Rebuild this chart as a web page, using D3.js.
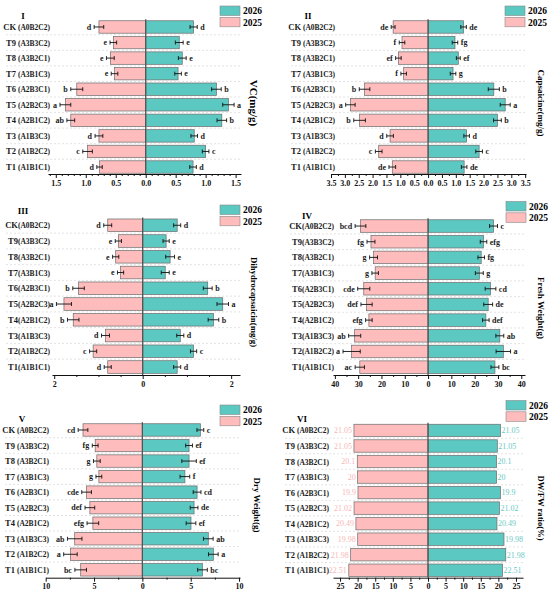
<!DOCTYPE html>
<html><head><meta charset="utf-8">
<script src="https://cdn.jsdelivr.net/npm/d3@7"></script>
<style>
body{margin:0;background:#fff;}
svg{display:block;font-family:"Liberation Serif","Times New Roman",serif;}
</style></head>
<body>
<svg id="chart" width="550" height="595"></svg>
<script>
// ---------- DATA ----------
const categories = ["CK","T9","T8","T7","T6","T5","T4","T3","T2","T1"];
const codes = ["A0B2C2","A3B3C2","A3B2C1","A3B1C3","A2B3C1","A2B2C3","A2B1C2","A1B3C3","A1B2C2","A1B1C1"];
const years = ["2026","2025"];

// Panel I  VC (mg/g)
const vc2026 = [0.80,0.56,0.61,0.54,1.18,1.38,1.27,0.81,1.00,0.79];
const vc2025 = [0.78,0.54,0.59,0.52,1.15,1.34,1.25,0.78,0.97,0.77];
const vcErr2026 = [0.06,0.065,0.065,0.055,0.08,0.095,0.08,0.055,0.055,0.055];
const vcErr2025 = [0.08,0.055,0.065,0.055,0.10,0.09,0.065,0.065,0.08,0.045];
const vcSig2026 = ["d","e","e","e","b","a","b","d","c","d"];
const vcSig2025 = ["d","e","e","e","b","a","ab","d","c","d"];

// Panel II Capsaicine (mg/g)
const cap2026 = [1.28,0.97,1.09,0.90,2.37,2.78,2.50,1.39,1.84,1.30];
const cap2025 = [1.26,0.94,1.07,0.88,2.29,2.80,2.47,1.37,1.78,1.29];
const capErr2026 = [0.10,0.10,0.07,0.10,0.20,0.18,0.14,0.10,0.12,0.10];
const capErr2025 = [0.07,0.10,0.10,0.10,0.19,0.17,0.21,0.12,0.12,0.12];
const capSig2026 = ["de","fg","ef","g","b","a","b","d","c","de"];
const capSig2025 = ["de","f","ef","f","b","a","b","d","c","de"];

// Panel III Dihydrocapsaicin (mg/g)
const dhc2026 = [0.78,0.53,0.62,0.51,1.47,1.81,1.60,0.85,1.15,0.78];
const dhc2025 = [0.79,0.55,0.61,0.50,1.45,1.78,1.57,0.84,1.12,0.79];
const dhcErr2026 = [0.08,0.07,0.10,0.09,0.10,0.13,0.12,0.08,0.07,0.08];
const dhcErr2025 = [0.09,0.07,0.07,0.07,0.13,0.17,0.13,0.09,0.08,0.08];
const dhcSig2026 = ["d","e","e","e","b","a","b","d","c","d"];
const dhcSig2025 = ["d","e","e","e","b","a","b","d","c","d"];

// Panel IV Fresh Weight (g)
const fw2026 = [28.1,23.8,22.8,22.0,26.8,25.8,24.8,30.8,32.3,28.7];
const fw2025 = [29.0,24.5,23.4,22.7,27.6,26.4,25.4,31.5,32.8,29.3];
const fwErr2026 = [1.7,1.4,1.4,1.7,2.3,1.9,1.4,1.7,3.1,1.7];
const fwErr2025 = [2.3,1.7,1.7,1.4,2.6,2.4,1.4,2.6,3.7,2.0];
const fwSig2026 = ["c","efg","fg","g","cd","de","def","ab","a","bc"];
const fwSig2025 = ["bcd","fg","g","g","cde","def","efg","ab","a","ac"];

// Panel V Dry Weight (g)
const dw2026 = [6.00,4.83,4.83,4.40,5.66,5.35,5.03,6.82,7.34,6.22];
const dw2025 = [6.14,4.88,4.71,4.50,5.77,5.43,5.12,7.00,7.44,6.38];
const dwErr2026 = [0.35,0.35,0.75,0.5,0.4,0.4,0.5,0.5,0.5,0.5];
const dwErr2025 = [0.5,0.3,0.35,0.3,0.5,0.5,0.6,0.75,0.7,0.6];
const dwSig2026 = ["c","ef","ef","f","cd","de","ef","ab","a","bc"];
const dwSig2025 = ["cd","fg","g","g","cde","def","efg","ab","a","bc"];

// Panel VI DW/FW ratio (%)
const ratio2026 = [20.6,19.7,19.5,19.5,20.6,20.3,19.6,21.6,22.1,21.2];
const ratio2025 = [21.05,21.05,20.1,20.0,19.9,21.02,20.49,19.98,21.98,22.51];
const ratioLabels = ["21.05","21.05","20.1","20","19.9","21.02","20.49","19.98","21.98","22.51"];

// tick values
const ticksI = [-1.5,-1.0,-0.5,0,0.5,1.0,1.5];
const ticksII = [-3.5,-3.0,-2.5,-2.0,-1.5,-1.0,-0.5,0,0.5,1.0,1.5,2.0,2.5,3.0,3.5];
const ticksIII = [-2,0,2];
const ticksIV = [-40,-30,-20,-10,0,10,20,30,40];
const ticksV = [-10,-5,0,5,10];
const ticksVI = [-25,-20,-15,-10,-5,0,5,10,15,20,25];

// ---------- STYLE / LAYOUT ----------
const teal = "#5cc8c2", pink = "#ffbcbc";
const svg = d3.select("#chart");
svg.append("rect").attr("width",550).attr("height",595).attr("fill","#fff");

const panels = [
 {roman:"I", yTitle:"VC(mg/g)", r:vc2026, l:vc2025, er:vcErr2026, el:vcErr2025, sr:vcSig2026, sl:vcSig2025,
  ticks:ticksI, minor:0.1, fmt:d3.format(".1f"), sep:" ",
  x0:48, x1:241, dom:[-1.63,1.59], top:19.2, bot:174.8, axisY:174, labelX:50, titleX:23, titleY:19,
  legX:220, legY:6, yTX:253, yTY:103, yTS:11},
 {roman:"II", yTitle:"Capsaicine(mg/g)", r:cap2026, l:cap2025, er:capErr2026, el:capErr2025, sr:capSig2026, sl:capSig2025,
  ticks:ticksII, minor:0.25, fmt:d3.format(".1f"), sep:" ",
  x0:331, x1:526, dom:[-3.5,3.53], top:19.2, bot:174.8, axisY:174, labelX:335, titleX:308, titleY:19,
  legX:505, legY:6, yTX:540, yTY:103, yTS:9},
 {roman:"III", yTitle:"Dihydrocapsaicin(mg/g)", r:dhc2026, l:dhc2025, er:dhcErr2026, el:dhcErr2025, sr:dhcSig2026, sl:dhcSig2025,
  ticks:ticksIII, minor:0.5, fmt:d3.format("d"), sep:"",
  x0:52, x1:240, dom:[-2.05,2.2], top:217.4, bot:374.9, axisY:375, labelX:50, titleX:23, titleY:214,
  legX:220, legY:205, yTX:253, yTY:302, yTS:8.8},
 {roman:"IV", yTitle:"Fresh Weight(g)", r:fw2026, l:fw2025, er:fwErr2026, el:fwErr2025, sr:fwSig2026, sl:fwSig2025,
  ticks:ticksIV, minor:5, fmt:d3.format("d"), sep:"",
  x0:333, x1:525, dom:[-40.8,41.6], top:218.2, bot:375, axisY:375, labelX:334, titleX:307, titleY:219,
  legX:506, legY:201.5, yTX:540, yTY:308, yTS:9},
 {roman:"V", yTitle:"Dry Weight(g)", r:dw2026, l:dw2025, er:dwErr2026, el:dwErr2025, sr:dwSig2026, sl:dwSig2025,
  ticks:ticksV, minor:2.5, fmt:d3.format("d"), sep:" ",
  x0:45.7, x1:240, dom:[-10,10.1], top:422.2, bot:577.6, axisY:577.7, labelX:49, titleX:22, titleY:422,
  legX:220, legY:405, yTX:256, yTY:505, yTS:9},
 {roman:"VI", yTitle:"DW/FW ratio(%)", r:ratio2026, l:ratio2025, er:null, el:null, sr:null, sl:null, vals:ratioLabels,
  ticks:ticksVI, minor:2.5, fmt:d3.format("d"), sep:" ",
  x0:333, x1:523, dom:[-27,27], top:422.7, bot:578, axisY:577.7, labelX:329, titleX:302, titleY:422,
  legX:506, legY:400.5, yTX:540, yTY:508, yTS:8.6}
];

panels.forEach(drawPanel);

function drawPanel(p){
  const g = svg.append("g");
  const x = d3.scaleLinear().domain(p.dom).range([p.x0,p.x1]);
  const y = d3.scaleBand().domain(categories).range([p.top,p.bot]).paddingInner(0.2).paddingOuter(0.1);
  const step = y.step();

  // dashed separators
  categories.slice(1).forEach(c=>{
    const yy = y(c) - step*0.1;
    g.append("line").attr("x1",p.labelX-44).attr("x2",p.x1).attr("y1",yy).attr("y2",yy)
      .attr("stroke","#d0d0d0").attr("stroke-width",0.6).attr("stroke-dasharray","2,2");
  });

  // category labels
  categories.forEach((c,i)=>{
    const t = g.append("text").attr("x",p.labelX).attr("y",y(c)+y.bandwidth()/2+3)
      .attr("text-anchor","end").attr("font-weight","bold").attr("fill","#1a1a1a");
    t.append("tspan").attr("font-size",8.5).text(c);
    t.append("tspan").attr("font-size",7.5).text(p.sep+"("+codes[i]+")");
  });

  // bars right (2026)
  g.selectAll(".br").data(categories).enter().append("rect")
    .attr("x",x(0)).attr("y",d=>y(d)).attr("height",y.bandwidth())
    .attr("width",(d,i)=>x(p.r[i])-x(0))
    .attr("fill",teal).attr("stroke","#6b6b6b").attr("stroke-width",0.7);
  // bars left (2025)
  g.selectAll(".bl").data(categories).enter().append("rect")
    .attr("x",(d,i)=>x(-p.l[i])).attr("y",d=>y(d)).attr("height",y.bandwidth())
    .attr("width",(d,i)=>x(0)-x(-p.l[i]))
    .attr("fill",pink).attr("stroke","#6b6b6b").attr("stroke-width",0.7);

  if(p.er){
    categories.forEach((c,i)=>{
      const cy = y(c)+y.bandwidth()/2;
      [[p.r[i],p.er[i],1,p.sr[i]],[-p.l[i],p.el[i],-1,p.sl[i]]].forEach(([v,e,s,sig])=>{
        const a = x(v-e), b = x(v+e);
        g.append("line").attr("x1",a).attr("x2",b).attr("y1",cy).attr("y2",cy).attr("stroke","#111").attr("stroke-width",0.9);
        [a,b].forEach(xx=>g.append("line").attr("x1",xx).attr("x2",xx).attr("y1",cy-2).attr("y2",cy+2).attr("stroke","#111").attr("stroke-width",0.9));
        const endX = s>0 ? b+3 : a-3;
        g.append("text").attr("x",endX).attr("y",cy+2.8).attr("text-anchor",s>0?"start":"end")
          .attr("font-size",8).attr("font-weight","bold").attr("fill","#1a1a1a").text(sig);
      });
    });
  }
  if(p.vals){
    categories.forEach((c,i)=>{
      const cy = y(c)+y.bandwidth()/2+2.8;
      g.append("text").attr("x",x(p.r[i])+1).attr("y",cy).attr("font-size",8).attr("fill","#6cc9c4").text(p.vals[i]);
      g.append("text").attr("x",x(-p.l[i])-2).attr("y",cy).attr("text-anchor","end").attr("font-size",8).attr("fill","#f7b7b7").text(p.vals[i]);
    });
  }

  // zero line
  g.append("line").attr("x1",x(0)).attr("x2",x(0)).attr("y1",p.top).attr("y2",p.axisY)
    .attr("stroke","#555").attr("stroke-width",1.3);

  // minor ticks
  const minorVals = d3.range(Math.ceil(p.dom[0]/p.minor)*p.minor, p.dom[1]+1e-9, p.minor)
      .filter(v=>!p.ticks.some(t=>Math.abs(t-v)<1e-9));
  const ma = g.append("g").attr("transform",`translate(0,${p.axisY})`)
    .call(d3.axisBottom(x).tickValues(minorVals).tickSize(2).tickFormat(""));
  ma.select(".domain").remove();
  ma.selectAll("line").attr("stroke","#111");
  // major axis
  const ax = g.append("g").attr("transform",`translate(0,${p.axisY})`)
    .call(d3.axisBottom(x).tickValues(p.ticks).tickSize(4).tickSizeOuter(0).tickPadding(2).tickFormat(d=>p.fmt(Math.abs(d))));
  ax.select(".domain").attr("stroke","#111").attr("stroke-width",1);
  ax.selectAll("line").attr("stroke","#111");
  ax.selectAll("text").attr("font-family","Liberation Serif, serif").attr("font-weight","bold").attr("font-size",8).attr("fill","#111");

  // roman title
  g.append("text").attr("x",p.titleX).attr("y",p.titleY).attr("text-anchor","middle")
    .attr("font-size",9).attr("font-weight","bold").text(p.roman);

  // y title (rotated)
  g.append("text").attr("transform",`translate(${p.yTX},${p.yTY}) rotate(90)`)
    .attr("text-anchor","middle").attr("dominant-baseline","middle")
    .attr("font-size",p.yTS).attr("font-weight","bold").text(p.yTitle);

  // legend
  years.forEach((yr,i)=>{
    const ly = p.legY + i*11.3;
    g.append("rect").attr("x",p.legX).attr("y",ly).attr("width",20).attr("height",9.5)
      .attr("fill",i===0?teal:pink).attr("stroke","#888").attr("stroke-width",0.6);
    g.append("text").attr("x",p.legX+23).attr("y",ly+8.3).attr("font-size",9.5).attr("font-weight","bold").text(yr);
  });
}
</script>
</body></html>
